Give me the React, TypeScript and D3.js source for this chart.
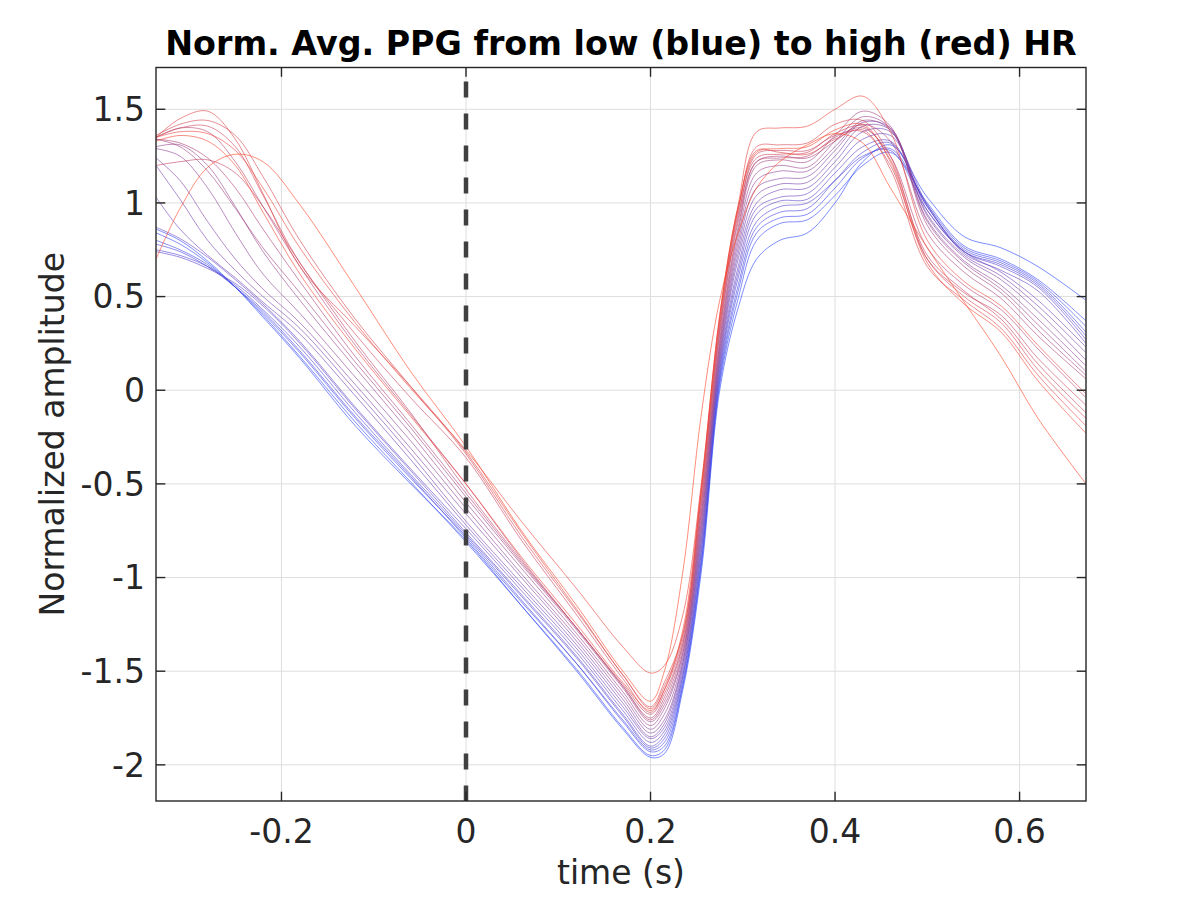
import React, { useEffect } from 'react';
import * as d3 from 'd3';

// time knots (s) shared by every averaged PPG curve
const timeKnots = [-0.336, -0.31, -0.28, -0.25, -0.22, -0.18, -0.12, -0.06, 0, 0.06, 0.12, 0.17, 0.2, 0.215, 0.235, 0.255, 0.275, 0.295, 0.315, 0.34, 0.37, 0.4, 0.43, 0.46, 0.5, 0.54, 0.58, 0.62, 0.672];

// curves from low HR (blue) to high HR (red)
const ppg01 = [0.86, 0.80, 0.69, 0.55, 0.39, 0.17, -0.19, -0.50, -0.80, -1.15, -1.50, -1.81, -1.96, -1.94, -1.60, -0.97, 0.00, 0.44, 0.70, 0.80, 0.84, 1.00, 1.22, 1.31, 1.03, 0.82, 0.76, 0.66, 0.48];
const ppg02 = [0.84, 0.78, 0.68, 0.55, 0.40, 0.18, -0.17, -0.49, -0.81, -1.15, -1.49, -1.80, -1.95, -1.92, -1.58, -0.94, 0.03, 0.49, 0.80, 0.89, 0.91, 1.04, 1.20, 1.27, 1.00, 0.77, 0.70, 0.59, 0.37];
const ppg03 = [0.80, 0.75, 0.67, 0.55, 0.41, 0.20, -0.15, -0.47, -0.78, -1.12, -1.46, -1.77, -1.93, -1.90, -1.57, -0.92, 0.05, 0.53, 0.84, 0.92, 0.94, 1.08, 1.24, 1.29, 0.99, 0.76, 0.69, 0.58, 0.34];
const ppg04 = [0.78, 0.74, 0.66, 0.55, 0.42, 0.21, -0.14, -0.46, -0.79, -1.13, -1.46, -1.76, -1.92, -1.88, -1.55, -0.90, 0.07, 0.56, 0.87, 0.95, 0.97, 1.12, 1.27, 1.32, 0.98, 0.75, 0.68, 0.57, 0.31];
const ppg05 = [0.75, 0.72, 0.66, 0.56, 0.43, 0.23, -0.12, -0.45, -0.77, -1.10, -1.43, -1.74, -1.91, -1.86, -1.53, -0.87, 0.09, 0.60, 0.90, 0.98, 1.00, 1.12, 1.25, 1.28, 0.96, 0.74, 0.67, 0.56, 0.29];
const ppg06 = [0.74, 0.71, 0.65, 0.57, 0.45, 0.25, -0.10, -0.43, -0.76, -1.09, -1.42, -1.73, -1.90, -1.84, -1.52, -0.85, 0.11, 0.63, 0.94, 1.01, 1.02, 1.16, 1.30, 1.33, 0.98, 0.74, 0.66, 0.55, 0.27];
const ppg07 = [0.87, 0.81, 0.71, 0.59, 0.46, 0.26, -0.09, -0.42, -0.74, -1.07, -1.40, -1.71, -1.88, -1.82, -1.50, -0.82, 0.13, 0.66, 0.97, 1.03, 1.05, 1.19, 1.34, 1.36, 0.99, 0.73, 0.64, 0.53, 0.25];
const ppg08 = [1.03, 0.86, 0.72, 0.60, 0.47, 0.30, -0.03, -0.37, -0.72, -1.05, -1.38, -1.69, -1.86, -1.80, -1.48, -0.80, 0.15, 0.70, 1.00, 1.07, 1.08, 1.22, 1.38, 1.38, 0.96, 0.74, 0.63, 0.48, 0.23];
const ppg09 = [1.20, 1.02, 0.80, 0.64, 0.50, 0.33, 0.00, -0.34, -0.70, -1.03, -1.36, -1.67, -1.85, -1.78, -1.46, -0.77, 0.17, 0.73, 1.04, 1.10, 1.11, 1.25, 1.41, 1.39, 0.94, 0.72, 0.61, 0.45, 0.20];
const ppg10 = [1.24, 1.12, 0.90, 0.70, 0.54, 0.36, 0.03, -0.31, -0.66, -1.00, -1.34, -1.65, -1.83, -1.76, -1.45, -0.75, 0.19, 0.76, 1.08, 1.13, 1.14, 1.28, 1.43, 1.40, 0.93, 0.71, 0.59, 0.42, 0.16];
const ppg11 = [1.29, 1.25, 1.08, 0.84, 0.62, 0.41, 0.07, -0.27, -0.63, -0.98, -1.32, -1.63, -1.81, -1.73, -1.43, -0.72, 0.21, 0.79, 1.12, 1.17, 1.17, 1.30, 1.44, 1.39, 0.91, 0.69, 0.56, 0.38, 0.13];
const ppg12 = [1.30, 1.31, 1.20, 0.98, 0.74, 0.48, 0.12, -0.23, -0.60, -0.95, -1.30, -1.61, -1.79, -1.70, -1.41, -0.70, 0.23, 0.82, 1.16, 1.20, 1.19, 1.33, 1.46, 1.40, 0.90, 0.68, 0.54, 0.35, 0.10];
const ppg13 = [1.34, 1.30, 1.17, 0.97, 0.76, 0.52, 0.15, -0.20, -0.57, -0.93, -1.28, -1.59, -1.77, -1.68, -1.40, -0.67, 0.25, 0.85, 1.20, 1.23, 1.22, 1.36, 1.49, 1.41, 0.88, 0.66, 0.52, 0.32, 0.08];
const ppg14 = [1.34, 1.32, 1.24, 1.08, 0.86, 0.58, 0.18, -0.18, -0.55, -0.92, -1.27, -1.58, -1.76, -1.66, -1.38, -0.65, 0.27, 0.87, 1.22, 1.25, 1.24, 1.33, 1.42, 1.33, 0.84, 0.63, 0.49, 0.29, 0.06];
const ppg15 = [1.35, 1.40, 1.38, 1.22, 0.98, 0.66, 0.24, -0.13, -0.50, -0.90, -1.27, -1.58, -1.75, -1.64, -1.36, -0.62, 0.30, 0.90, 1.22, 1.24, 1.25, 1.35, 1.40, 1.25, 0.76, 0.56, 0.43, 0.22, -0.04];
const ppg16 = [1.20, 1.22, 1.23, 1.16, 0.98, 0.68, 0.26, -0.12, -0.53, -0.91, -1.27, -1.57, -1.73, -1.62, -1.35, -0.60, 0.32, 0.92, 1.26, 1.28, 1.28, 1.36, 1.38, 1.20, 0.70, 0.52, 0.40, 0.17, -0.08];
const ppg17 = [1.35, 1.40, 1.41, 1.30, 1.04, 0.68, 0.30, -0.04, -0.36, -0.80, -1.20, -1.54, -1.72, -1.60, -1.33, -0.57, 0.34, 0.94, 1.24, 1.26, 1.27, 1.37, 1.41, 1.23, 0.72, 0.53, 0.38, 0.14, -0.12];
const ppg18 = [1.36, 1.42, 1.44, 1.36, 1.14, 0.80, 0.38, 0.02, -0.34, -0.78, -1.18, -1.52, -1.70, -1.58, -1.31, -0.55, 0.36, 0.96, 1.30, 1.31, 1.32, 1.42, 1.44, 1.25, 0.70, 0.50, 0.36, 0.11, -0.15];
const ppg19 = [1.35, 1.45, 1.49, 1.34, 1.05, 0.66, 0.34, 0.02, -0.33, -0.76, -1.17, -1.52, -1.69, -1.56, -1.30, -0.53, 0.38, 0.97, 1.28, 1.27, 1.26, 1.34, 1.39, 1.18, 0.66, 0.48, 0.33, 0.08, -0.19];
const ppg20 = [1.35, 1.38, 1.37, 1.28, 1.08, 0.76, 0.36, 0.01, -0.32, -0.70, -1.06, -1.37, -1.51, -1.47, -1.20, -0.50, 0.40, 0.99, 1.38, 1.40, 1.41, 1.50, 1.57, 1.38, 0.80, 0.58, 0.45, 0.24, -0.02];
const ppg21 = [1.33, 1.36, 1.33, 1.20, 0.95, 0.62, 0.22, -0.14, -0.50, -0.89, -1.25, -1.56, -1.71, -1.60, -1.28, -0.52, 0.40, 0.98, 1.27, 1.29, 1.30, 1.39, 1.42, 1.22, 0.68, 0.46, 0.31, 0.05, -0.23];
const ppg22 = [0.70, 0.97, 1.19, 1.26, 1.22, 0.99, 0.55, 0.10, -0.30, -0.75, -1.15, -1.50, -1.66, -1.50, -0.97, -0.13, 0.48, 0.84, 1.08, 1.22, 1.31, 1.37, 1.32, 1.08, 0.76, 0.47, 0.18, -0.15, -0.50];

const curves = [ppg01, ppg02, ppg03, ppg04, ppg05, ppg06, ppg07, ppg08, ppg09, ppg10, ppg11, ppg12, ppg13, ppg14, ppg15, ppg16, ppg17, ppg18, ppg19, ppg20, ppg21, ppg22];

const xTicks = [-0.2, 0, 0.2, 0.4, 0.6];
const xTickLabels = ['-0.2', '0', '0.2', '0.4', '0.6'];
const yTicks = [-2, -1.5, -1, -0.5, 0, 0.5, 1, 1.5];
const yTickLabels = ['-2', '-1.5', '-1', '-0.5', '0', '0.5', '1', '1.5'];
const xDomain = [-0.336, 0.672];
const yDomain = [-2.193, 1.723];
const eventTime = 0;

const titleText = 'Norm. Avg. PPG from low (blue) to high (red) HR';
const xLabelText = 'time (s)';
const yLabelText = 'Normalized amplitude';

export default function App() {
  useEffect(() => {
    document.body.style.margin = '0';
    document.body.style.overflow = 'hidden';
  }, []);

  const W = 1200;
  const H = 900;
  const left = 156;
  const right = 1086;
  const top = 67.5;
  const bottom = 801;

  const x = d3.scaleLinear().domain(xDomain).range([left, right]);
  const y = d3.scaleLinear().domain(yDomain).range([bottom, top]);

  const line = d3
    .line<number>()
    .x((_, i) => x(timeKnots[i]))
    .y((d) => y(d))
    .curve(d3.curveCatmullRom.alpha(0.5));

  const color = d3.interpolateRgb('#1e3cff', '#ff3c1e');
  const n = curves.length;
  const axisColor = '#262626';
  const gridColor = '#dedede';
  const font = '"DejaVu Sans", sans-serif';
  const tickLen = 9.3;

  return (
    <svg
      width={W}
      height={H}
      viewBox={`0 0 ${W} ${H}`}
      style={{ position: 'fixed', left: 0, top: 0, background: '#fff' }}
    >
      <defs>
        <clipPath id="plotClip">
          <rect x={left} y={top} width={right - left} height={bottom - top} />
        </clipPath>
      </defs>
      <rect x={0} y={0} width={W} height={H} fill="#fff" />

      {/* grid */}
      <g>
        {xTicks.map((t) => (
          <line key={'gx' + t} x1={x(t)} x2={x(t)} y1={top} y2={bottom} stroke={gridColor} strokeWidth={1} />
        ))}
        {yTicks.map((t) => (
          <line key={'gy' + t} x1={left} x2={right} y1={y(t)} y2={y(t)} stroke={gridColor} strokeWidth={1} />
        ))}
      </g>

      {/* curves */}
      <g clipPath="url(#plotClip)">
        {curves.map((c, i) => (
          <path
            key={'c' + i}
            d={line(c) || ''}
            fill="none"
            stroke={color(i / (n - 1))}
            strokeOpacity={0.58}
            strokeWidth={1}
          />
        ))}
        <line
          x1={x(eventTime)}
          x2={x(eventTime)}
          y1={top}
          y2={bottom}
          stroke="#404040"
          strokeWidth={4.5}
          strokeDasharray="16 16"
          strokeDashoffset={18}
        />
      </g>

      {/* axes box */}
      <rect x={left} y={top} width={right - left} height={bottom - top} fill="none" stroke={axisColor} strokeWidth={1.4} />

      {/* ticks */}
      <g stroke={axisColor} strokeWidth={1.4}>
        {xTicks.map((t) => (
          <g key={'tx' + t}>
            <line x1={x(t)} x2={x(t)} y1={bottom} y2={bottom - tickLen} />
            <line x1={x(t)} x2={x(t)} y1={top} y2={top + tickLen} />
          </g>
        ))}
        {yTicks.map((t) => (
          <g key={'ty' + t}>
            <line x1={left} x2={left + tickLen} y1={y(t)} y2={y(t)} />
            <line x1={right} x2={right - tickLen} y1={y(t)} y2={y(t)} />
          </g>
        ))}
      </g>

      {/* tick labels */}
      <g fontFamily={font} fontSize={33} fill={axisColor}>
        {xTicks.map((t, i) => (
          <text key={'lx' + t} x={x(t)} y={bottom + 42} textAnchor="middle">
            {xTickLabels[i]}
          </text>
        ))}
        {yTicks.map((t, i) => (
          <text key={'ly' + t} x={left - 11} y={y(t)} dy="0.36em" textAnchor="end">
            {yTickLabels[i]}
          </text>
        ))}
      </g>

      {/* labels */}
      <text x={(left + right) / 2} y={884} textAnchor="middle" fontFamily={font} fontSize={33} fill={axisColor}>
        {xLabelText}
      </text>
      <text
        transform={`translate(64, ${(top + bottom) / 2}) rotate(-90)`}
        textAnchor="middle"
        fontFamily={font}
        fontSize={33}
        fill={axisColor}
      >
        {yLabelText}
      </text>
      <text
        x={(left + right) / 2}
        y={55}
        textAnchor="middle"
        fontFamily={font}
        fontSize={33.3}
        fontWeight="bold"
        fill="#000"
      >
        {titleText}
      </text>
    </svg>
  );
}
